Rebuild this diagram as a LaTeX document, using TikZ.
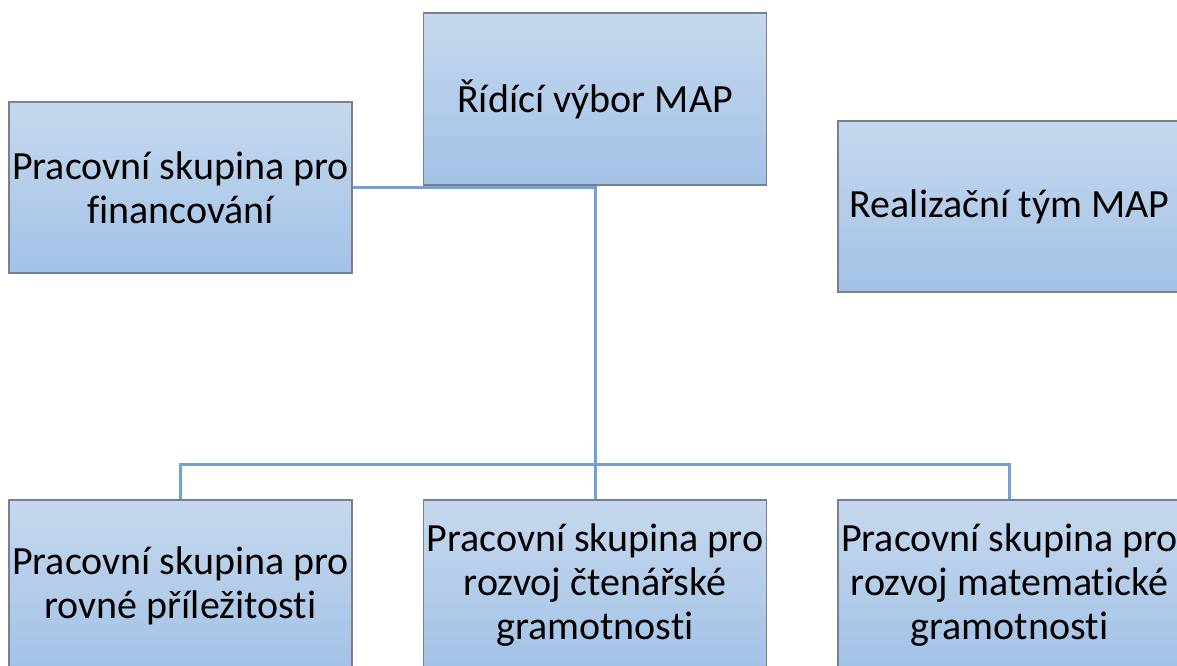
\documentclass[tikz,border=0pt]{standalone}
\usepackage{fontspec}
\setmainfont{Carlito}[Ligatures=NoCommon]
\usepackage{tikz}
\definecolor{boxtop}{RGB}{198,216,238}
\definecolor{boxbottom}{RGB}{162,194,230}
\definecolor{boxline}{RGB}{118,128,142}
\definecolor{linkline}{RGB}{112,160,214}
\tikzset{
  orgbox/.style={draw=boxline,line width=1.2pt,top color=boxtop,bottom color=boxbottom,
    minimum width=343pt,minimum height=172pt,align=center,inner sep=0pt,
    font=\fontsize{40}{44}\selectfont},
  link/.style={draw=linkline,line width=3pt}
}
\begin{document}
\begin{tikzpicture}[line cap=butt,line join=miter,x=1pt,y=-1pt]
\useasboundingbox (0,0) rectangle (1177,666);
\clip (0,0) rectangle (1177,666);
% boxes
\node[orgbox] (ridici) at (595,99) {Řídící výbor MAP};
\node[orgbox,minimum height=171pt] (financ) at (180.5,187.5) {Pracovní skupina pro\\financování};
\node[orgbox,minimum height=171pt] (realiz) at (1009.5,206.5) {Realizační tým MAP};
\node[orgbox,minimum height=171pt] (rovne) at (180.5,585.5) {Pracovní skupina pro\\rovné příležitosti};
\node[orgbox,minimum height=171pt] (cten) at (595,585.5) {Pracovní skupina pro\\rozvoj čtenářské\\gramotnosti};
\node[orgbox,minimum height=171pt] (matem) at (1009.5,585.5) {Pracovní skupina pro\\rozvoj matematické\\gramotnosti};
% junctions
\coordinate (split) at (ridici.south |- 0,464);
\coordinate (joinfin) at (financ.east -| ridici.south);
% connectors
\draw [link] (ridici.south) -- (split);
\draw [link] (financ.east) -- (joinfin);
\draw [link] (split) -| (rovne.north);
\draw [link] (split) -| (matem.north);
\draw [link] (split) -- (cten.north);
\end{tikzpicture}
\end{document}
